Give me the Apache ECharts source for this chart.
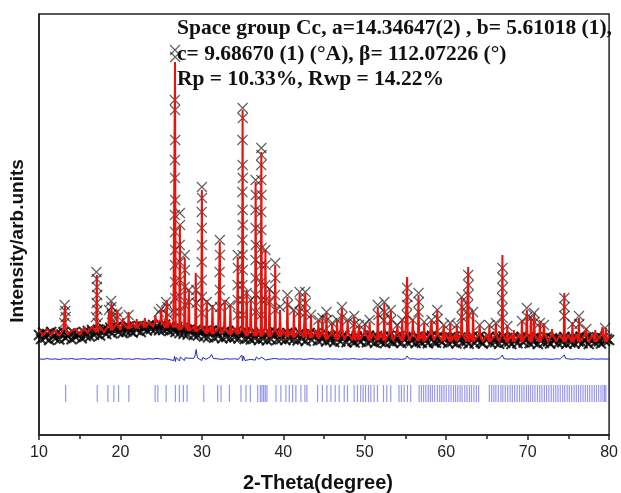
<!DOCTYPE html>
<html><head><meta charset="utf-8">
<script src="https://cdn.jsdelivr.net/npm/echarts@6/dist/echarts.min.js"></script>
<style>html,body{margin:0;padding:0;background:#fff}#c{width:621px;height:493px}</style>
</head><body><div id="c"></div>
<script>
// x range and tick labels
const xTicks = [10, 20, 30, 40, 50, 60, 70, 80];
// observed background points, 2θ = 10 + i*0.25
const obsBase = [
1000,960,1025,975,1010,950,1030,985,965,1020,955,1005,1028,970,990,1015,958,1022,980,1000,
1012,968,1030,990,1040,985,1050,1002,1020,1055,995,1045,1060,1010,1050,1072,1018,1065,1080,1030,
1070,1020,1078,1035,1085,1040,1025,1082,1050,1090,1030,1075,1088,1045,1095,1060,1100,1055,1092,1048,
1098,1050,1105,1062,1040,1090,1055,1030,1080,1020,1065,1012,1058,1005,1048,1070,1000,1052,995,1040,
1030,985,1045,978,1035,1040,972,1028,990,1045,968,1032,980,1040,970,1025,978,1038,965,1020,
1015,960,1030,975,955,1025,968,1012,950,1020,962,1010,948,1025,958,1005,1028,952,1015,960,
1012,950,1020,965,1025,955,1005,945,1018,962,1008,940,1002,1020,950,995,1015,945,1000,958,
985,935,1000,948,990,930,975,995,935,982,998,928,970,992,940,925,988,950,932,995,
975,928,992,940,980,922,990,945,930,982,920,968,995,935,925,978,940,988,920,965,
980,925,990,940,970,920,985,935,922,978,948,918,975,992,930,922,985,945,928,972,
968,920,978,932,985,915,962,975,925,980,940,912,970,985,918,955,980,928,915,968,
955,982,918,965,928,978,912,960,985,922,970,935,910,975,945,918,965,982,925,958,
975,918,962,930,980,910,955,968,922,978,935,915,968,940,975,918,960,928,980,912,
962,925,978,915,965,935,982,918,948,972,910,955,970,925,978,938,915,965,940,960,
950];
// observed points on peaks [2θ, intensity]
const obsPeaks = [
[13.15,1300],[13.22,1240],[13.28,1180],[13.1,1120],
[17.05,1630],[17.1,1560],[17.12,1480],[17.15,1400],[17.08,1320],[17.18,1250],[17.0,1180],[17.22,1120],
[18.6,1250],[18.85,1340],[18.9,1280],[18.95,1210],[19.05,1150],[19.6,1230],[19.7,1180],[21.0,1200],
[24.7,1230],[25.0,1260],[25.6,1330],[25.75,1280],[25.9,1200],
[26.7,3850],[26.72,3780],[26.68,3350],[26.7,3250],[26.72,2950],[26.68,2750],[26.7,2570],[26.72,2350],[26.68,2200],[26.7,2030],[26.72,1850],[26.68,1700],[26.7,1530],[26.72,1370],[26.68,1230],
[27.3,2220],[27.32,2100],[27.28,1900],[27.3,1730],[27.32,1550],[27.28,1390],[27.3,1230],
[27.9,1800],[27.92,1650],[27.88,1480],[27.9,1300],[28.4,1450],[28.45,1330],[29.3,1450],[29.35,1320],
[30.0,2480],[30.02,2370],[29.98,2230],[30.0,2070],[30.02,1900],[29.98,1730],[30.0,1550],[30.02,1380],[29.98,1220],
[30.6,1330],[31.3,1280],
[32.2,1950],[32.22,1800],[32.18,1630],[32.2,1450],[32.22,1280],[32.8,1330],[33.5,1300],
[34.4,1800],[34.42,1670],[34.38,1500],[34.4,1350],[34.42,1200],
[35.0,3270],[35.02,3170],[34.98,2950],[35.0,2700],[35.02,2570],[34.98,2430],[35.0,2250],[35.02,2100],[34.98,1950],[35.0,1800],[35.02,1650],[34.98,1500],[35.0,1350],[35.02,1200],
[35.5,1420],[36.0,1350],
[36.6,2550],[36.62,2400],[36.58,2250],[36.6,2070],[36.62,1900],[36.58,1750],[36.6,1570],[36.62,1400],[36.58,1230],
[37.3,2870],[37.32,2800],[37.28,2700],[37.3,2550],[37.32,2400],[37.28,2230],[37.3,2050],[37.32,1870],[37.28,1700],[37.3,1530],[37.32,1350],[37.28,1200],
[37.8,1850],[37.82,1700],[37.78,1500],[37.8,1350],[38.3,1460],[38.35,1330],
[39.0,1720],[39.02,1570],[38.98,1400],[39.0,1250],[39.6,1280],
[40.5,1400],[40.55,1300],[41.3,1250],[42.0,1430],[42.05,1320],[42.0,1230],[42.7,1430],[42.75,1320],[42.7,1220],
[43.4,1200],[44.3,1150],[44.8,1170],[45.3,1230],[45.35,1150],[46.0,1120],[46.6,1150],[47.2,1280],[47.25,1180],
[47.9,1150],[48.7,1190],[48.75,1110],[49.3,1100],[50.0,1110],[50.6,1150],[51.6,1300],[51.65,1200],
[52.4,1330],[52.45,1230],[52.35,1150],[53.2,1250],[53.25,1150],[54.0,1100],[54.6,1150],
[55.2,1470],[55.25,1380],[55.2,1300],[55.15,1200],[55.9,1150],[56.6,1420],[56.65,1330],[56.6,1230],
[57.3,1130],[58.2,1150],[58.9,1250],[58.95,1160],[59.7,1100],[60.5,1120],[61.3,1100],
[61.9,1380],[61.95,1280],[61.9,1180],[62.7,1600],[62.75,1500],[62.7,1400],[62.65,1300],[62.7,1200],
[63.3,1230],[64.1,1100],[65.3,1100],[66.1,1120],
[66.9,1670],[66.95,1570],[66.9,1470],[66.85,1370],[66.9,1270],[66.95,1170],
[67.5,1090],[69.3,1140],[69.9,1270],[69.95,1180],[70.4,1170],[70.8,1220],[70.85,1130],[71.5,1120],[72.0,1100],
[74.5,1370],[74.55,1280],[74.5,1190],[75.5,1110],[76.3,1190],[76.35,1110],[77.2,1060],[79.5,1070]];
// calculated background, 2θ = 10 + i*0.5
const calcBg = [
1050,995,1060,1000,1045,990,1058,1005,1040,1062,
1000,1070,1020,1082,1030,1078,1025,1095,1045,1105,
1050,1115,1060,1120,1065,1130,1075,1135,1080,1128,
1140,1070,1130,1075,1100,1050,1098,1040,1085,1035,
1082,1015,1075,1010,1070,1012,1068,1005,1072,1008,
1060,990,1055,988,1050,985,1058,980,1048,982,
1052,978,1045,975,1040,972,1048,970,1038,968,
1025,955,1020,950,1028,952,1018,948,1022,950,
1020,945,1015,948,1022,942,1012,945,1018,940,
1015,942,1010,940,1020,938,1012,945,1008,936,
1010,935,1005,938,1012,932,1008,936,1002,930,
1008,932,1000,935,1010,930,1004,934,1006,928,
1005,930,1002,932,1008,928,1000,935,1004,930,
1000,928,1006,930,998,926,1004,932,1000,930,
990];
// calculated peaks [2θ, intensity]
const calcPeaks = [
[13.2,1290],[17.1,1600],[18.6,1230],[18.9,1330],[19.6,1250],[20.3,1170],[21.0,1230],[22.0,1160],[23.0,1170],[24.3,1200],
[25.0,1270],[25.7,1350],[26.7,3730],[27.3,2100],[27.9,1770],[28.4,1450],[29.25,1620],[30.0,2450],[30.6,1350],[31.3,1300],
[32.2,1930],[32.8,1350],[33.5,1300],[34.4,1780],[35.0,3250],[35.5,1450],[36.0,1350],[36.6,2530],[37.3,2830],[37.8,1850],
[38.3,1450],[39.0,1700],[39.6,1250],[40.5,1380],[41.3,1250],[42.0,1420],[42.7,1420],[43.4,1200],[44.3,1150],[44.8,1170],
[45.3,1220],[46.0,1120],[46.6,1150],[47.2,1270],[47.9,1150],[48.7,1180],[49.3,1100],[50.0,1100],[50.6,1130],[51.6,1280],
[52.4,1320],[53.2,1250],[54.0,1100],[54.6,1160],[55.2,1580],[55.9,1160],[56.6,1400],[57.3,1130],[58.2,1150],[58.9,1250],
[59.7,1100],[60.5,1120],[61.3,1100],[61.9,1380],[62.7,1680],[63.3,1230],[64.1,1100],[65.3,1100],[66.1,1120],[66.9,1800],
[67.5,1100],[68.3,1050],[69.3,1150],[69.9,1250],[70.4,1170],[70.8,1200],[71.5,1130],[72.0,1120],[73.0,1060],[74.5,1420],
[75.5,1130],[76.3,1170],[77.2,1070],[78.3,1050],[79.2,1080],[79.6,1070]];
// difference curve, 2θ = 10 + i*0.5
const diffBase = [
762,757,764,758,761,755,763,759,765,757,
760,764,756,762,758,766,759,763,757,761,
765,758,762,756,764,760,757,763,759,766,
758,762,755,764,760,763,757,761,766,759,
762,757,764,758,761,756,763,759,762,757,
760,764,757,762,758,763,757,761,765,758,
761,757,763,759,762,756,760,764,758,761,
757,763,759,761,756,762,758,764,760,757,
763,758,761,757,762,759,764,758,761,756,
762,759,763,757,761,758,764,759,762,757,
761,758,763,756,762,760,757,763,759,761,
758,762,757,763,760,758,762,757,761,759,
763,757,761,758,762,759,757,762,760,758,
761,757,763,759,760,756,762,758,761,759,
760];
const diffFeat = [
[26.55,745],[26.65,785],[26.75,735],[26.85,775],[27.25,740],[27.35,780],[27.85,745],[27.95,772],[28.4,768],
[29.15,790],[29.3,855],[29.45,770],[30.0,745],[30.1,775],[31.0,780],[31.2,805],[31.4,765],[32.2,748],
[34.9,800],[35.0,740],[35.1,790],[35.3,745],[36.55,748],[36.7,780],[37.2,745],[37.35,778],[37.8,750],
[55.2,790],[62.7,775],[66.9,800],[67.05,765],[74.5,800],[74.65,765]];
// Bragg reflection positions
const bragg = [13.27,17.15,18.46,19.19,19.77,21.03,24.26,24.59,25.61,26.75,27.24,27.73,28.18,30.23,31.94,32.35,33.38,34.80,35.42,35.95,
36.85,37.18,37.38,37.58,37.79,37.99,39.10,39.70,40.32,40.73,41.14,41.54,42.16,42.65,42.90,44.20,44.80,45.35,45.84,46.37,
46.86,47.48,47.88,48.70,49.10,49.50,49.80,50.10,50.46,50.74,51.15,51.56,52.30,52.70,53.19,54.20,54.50,54.83,55.24,55.64,
56.67,56.95,57.22,57.50,57.80,58.05,58.30,58.58,58.92,59.20,59.45,59.72,60.00,60.32,60.60,60.90,61.15,61.42,61.70,61.95,
62.28,62.55,62.85,63.10,63.40,63.70,63.98,
65.30,65.58,65.85,66.10,66.40,66.72,66.95,67.25,67.55,67.85,68.12,68.40,68.70,69.00,69.28,69.55,69.85,70.10,70.35,70.62,
70.90,71.20,71.48,71.75,72.05,72.32,72.60,72.90,73.18,73.45,73.72,74.00,74.30,74.55,74.85,75.12,75.40,75.70,75.98,76.25,
76.52,76.80,77.08,77.35,77.62,77.90,78.18,78.45,78.72,79.00,79.25,79.45,79.60];
const braggLevel = 415;
const annotation = [
  'Space group Cc, a=14.34647(2) , b= 5.61018 (1),',
  'c= 9.68670 (1) (°A), β= 112.07226 (°)',
  'Rp = 10.33%, Rwp = 14.22%'];

// build series tables
const obsBaseData = obsBase.map((v, i) => [10 + i * 0.25, v]);
let calcData = calcBg.map((v, i) => [10 + i * 0.5, v])
  .filter(p => !calcPeaks.some(q => Math.abs(q[0] - p[0]) < 0.12));
calcPeaks.forEach(q => {
  const b = calcBg[Math.round((q[0] - 10) / 0.5)];
  calcData.push([q[0] - 0.08, b], [q[0], q[1]], [q[0] + 0.08, b]);
});
calcData.sort((a, b) => a[0] - b[0]);
let diffData = diffBase.map((v, i) => [10 + i * 0.5, v])
  .filter(p => !diffFeat.some(q => Math.abs(q[0] - p[0]) < 0.12))
  .concat(diffFeat).sort((a, b) => a[0] - b[0]);
const braggData = bragg.map(x => [x, braggLevel]);

const serif = 'bold 21.5px "Liberation Serif", "Times New Roman"';
const cross = 'path://M0,0L10,10M10,0L0,10';
const chart = echarts.init(document.getElementById('c'), null, {renderer: 'canvas'});
chart.setOption({
  animation: false,
  grid: {left: 39, right: 9, top: 14, bottom: 58, show: true, borderColor: '#222', borderWidth: 1.5, backgroundColor: 'transparent'},
  xAxis: {
    type: 'value', min: xTicks[0], max: xTicks[xTicks.length - 1], interval: 10,
    axisLine: {lineStyle: {color: '#222', width: 1.5}},
    axisTick: {length: 5, lineStyle: {color: '#222', width: 1.5}},
    minorTick: {show: true, splitNumber: 2, length: 4, lineStyle: {color: '#222', width: 1.5}},
    axisLabel: {fontSize: 16, color: '#222', fontFamily: 'Liberation Sans, Arial', margin: 10},
    splitLine: {show: false}
  },
  yAxis: {
    type: 'value', min: 0, max: 4210,
    axisLine: {show: true, lineStyle: {color: '#222', width: 1.5}},
    axisTick: {show: false}, axisLabel: {show: false}, splitLine: {show: false}
  },
  graphic: [
    {type: 'text', x: 318, y: 483, style: {text: '2-Theta(degree)', font: 'bold 20px "Liberation Sans", Arial', fill: '#111', align: 'center', verticalAlign: 'middle'}},
    {type: 'text', x: 18, y: 241, rotation: Math.PI / 2, style: {text: 'Intensity/arb.units', font: 'bold 19px "Liberation Sans", Arial', fill: '#111', align: 'center', verticalAlign: 'middle'}},
    {type: 'text', x: 177, y: 28, style: {text: annotation[0], font: serif, fill: '#111', align: 'left', verticalAlign: 'middle'}},
    {type: 'text', x: 177, y: 54, style: {text: annotation[1], font: serif, fill: '#111', align: 'left', verticalAlign: 'middle'}},
    {type: 'text', x: 177, y: 79, style: {text: annotation[2], font: serif, fill: '#111', align: 'left', verticalAlign: 'middle'}}
  ],
  series: [
    {type: 'scatter', data: obsBaseData, symbol: cross, symbolSize: 10, z: 2,
     itemStyle: {color: 'none', borderColor: '#000', borderWidth: 2}},
    {type: 'scatter', data: obsPeaks, symbol: cross, symbolSize: 10, z: 2,
     itemStyle: {color: 'none', borderColor: 'rgba(25,25,25,0.85)', borderWidth: 1.2}},
    {type: 'line', data: calcData, showSymbol: false, symbol: 'none', z: 3,
     lineStyle: {color: '#e8120c', width: 2}},
    {type: 'line', data: diffData, showSymbol: false, symbol: 'none', z: 3,
     lineStyle: {color: '#2222c8', width: 1}},
    {type: 'scatter', data: braggData, symbol: 'rect', symbolSize: [1.2, 17], z: 3,
     itemStyle: {color: 'rgba(40,40,215,0.6)'}}
  ]
});
</script></body></html>
